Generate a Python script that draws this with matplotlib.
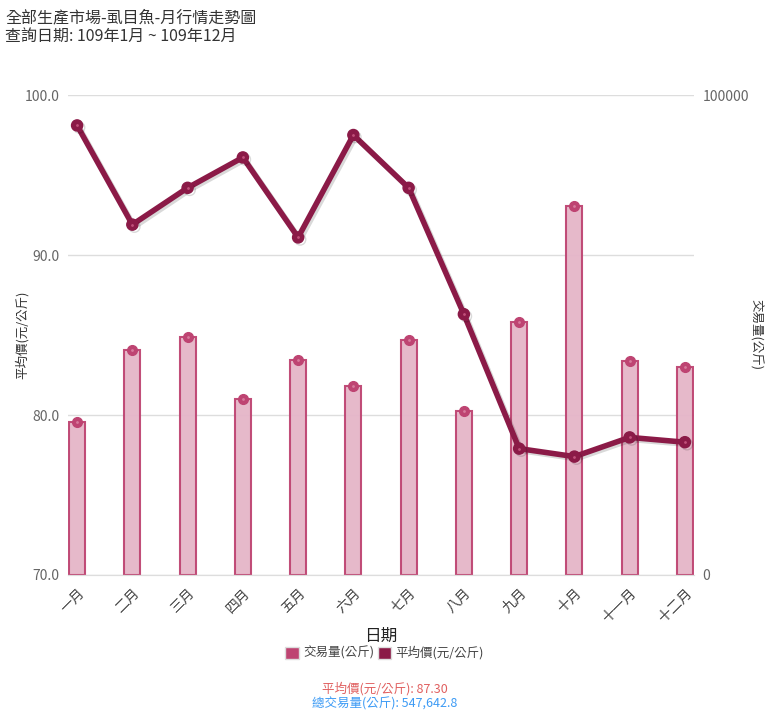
import numpy as np
import matplotlib.pyplot as plt
import matplotlib.patheffects as pe

plt.rcParams['font.family'] = ['Noto Sans CJK TC', 'DejaVu Sans']

months = ['一月', '二月', '三月', '四月', '五月', '六月', '七月', '八月', '九月', '十月', '十一月', '十二月']
avg_price = [98.1, 91.9, 94.2, 96.1, 91.1, 97.5, 94.2, 86.3, 77.9, 77.4, 78.6, 78.3]
volume = [31900, 46900, 49600, 36700, 44800, 39400, 49000, 34200, 52700, 76900, 44600, 43300]
title_lines = ['全部生產市場-虱目魚-月行情走勢圖', '查詢日期: 109年1月 ~ 109年12月']
summary_price = '平均價(元/公斤): 87.30'
summary_volume = '總交易量(公斤): 547,642.8'

line_color = '#8B1A47'
bar_edge = '#BE4472'
bar_fill = '#E5B5C8'
tick_color = '#666666'

x = np.arange(len(months))
bw = 0.29

fig = plt.figure(figsize=(7.69, 7.2), dpi=100)
ax = fig.add_axes([0.0884, 0.2014, 0.8141, 0.6666])
ax2 = ax.twinx()

# bars on the right axis
ax2.set_ylim(0, 100000)
ax2.set_yticks([0, 100000])
ax2.set_yticklabels(['0', '100000'])
# grid lines that match the left axis ticks, kept behind the bars
ax2.set_yticks(np.linspace(0, 100000, 4), minor=True)
ax2.grid(axis='y', which='both', color='#DDDDDD', linewidth=1)
ax2.set_axisbelow(True)
ax2.bar(x, volume, width=bw, color=bar_fill, edgecolor=bar_edge, linewidth=1.5, alpha=0.95)
ax2.plot(x, volume, 'o', color=bar_edge, markersize=7, linestyle='none')
ax2.plot(x, volume, '.', color='#D77A9C', markersize=2, linestyle='none')

# price line on the left axis, drawn above the bars
ax.set_zorder(ax2.get_zorder() + 1)
ax.patch.set_visible(False)
ax.plot(x, avg_price, '-o', color=line_color, linewidth=4, markersize=8,
        path_effects=[pe.SimpleLineShadow(offset=(1.5, -1.5), alpha=0.15), pe.Normal()])
ax.plot(x, avg_price, '.', color='#C0507A', markersize=2, linestyle='none')
ax.set_ylim(70, 100)
ax.set_yticks([70, 80, 90, 100])
ax.set_yticklabels(['70.0', '80.0', '90.0', '100.0'])
ax.set_xlim(-bw / 2 - 0.02, len(months) - 1 + bw / 2 + 0.02)
ax.set_xticks(x)
ax.set_xticklabels(months, rotation=45, ha='right', rotation_mode='anchor', fontsize=10, color='#444444')

for a in (ax, ax2):
    for s in ['top', 'left', 'right']:
        a.spines[s].set_visible(False)
    a.spines['bottom'].set_color('#DDDDDD')
    a.tick_params(axis='y', which='both', length=0, colors=tick_color, labelsize=10, pad=6)
    a.tick_params(axis='x', length=0, pad=8)

fig.text(0.029, 0.535, '平均價(元/公斤)', rotation=90, ha='center', va='center', fontsize=9, color='#333333')
fig.text(0.982, 0.535, '交易量(公斤)', rotation=270, ha='center', va='center', fontsize=9, color='#333333')
ax.set_xlabel('日期', fontsize=12, color='#222222', labelpad=2)

handles = [plt.Rectangle((0, 0), 1, 1, facecolor=bar_edge, edgecolor='#dddddd'),
           plt.Rectangle((0, 0), 1, 1, facecolor=line_color, edgecolor='#dddddd')]
fig.legend(handles, ['交易量(公斤)', '平均價(元/公斤)'], loc='center', bbox_to_anchor=(0.5, 0.093),
           ncol=2, frameon=False, fontsize=9, handlelength=1.1, handleheight=1.1,
           handletextpad=0.3, columnspacing=0.3, labelcolor='#444444')

fig.text(0.5, 0.044, summary_price, ha='center', va='center', fontsize=9, color='#E06060')
fig.text(0.5, 0.023, summary_volume, ha='center', va='center', fontsize=9, color='#3D9BF5')

fig.text(0.007, 0.975, title_lines[0], ha='left', va='center', fontsize=11.5, color='#333333')
fig.text(0.007, 0.949, title_lines[1], ha='left', va='center', fontsize=11.5, color='#333333')

fig.savefig('out.png', dpi=100)
